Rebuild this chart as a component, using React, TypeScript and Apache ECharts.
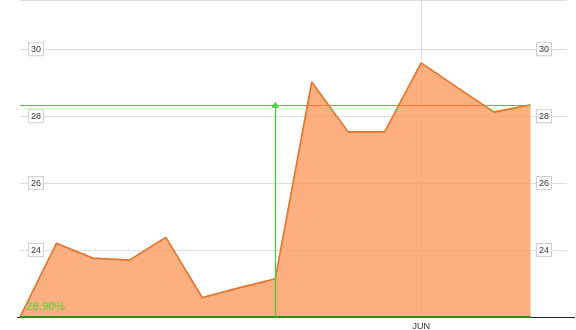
import React, { useEffect, useRef } from "react";
import * as echarts from "echarts";

const categories = [
  "Mar 20", "Mar 27", "Apr 3", "Apr 10", "Apr 17", "Apr 24", "May 1", "May 8",
  "May 15", "May 22", "May 29", "Jun 5", "Jun 12", "Jun 19", "Jun 26", "Jul 3",
];
const values = [22.0, 24.2, 23.76, 23.7, 24.38, 22.58, 22.87, 23.14, 29.02, 27.53, 27.53, 29.59, 28.85, 28.12, 28.34];
const monthLabelIndex = 11;
const monthLabel = "JUN";
const arrowIndex = 7;
const changeText = "28.90%";
const yMin = 22;
const yMax = 31.47;
const yInterval = 2;

export default function App() {
  const ref = useRef<HTMLDivElement>(null);
  useEffect(() => {
    if (!ref.current) return;
    const chart = echarts.init(ref.current, null, { renderer: "svg" });
    const last = values[values.length - 1];
    const lastIdx = values.length - 1;
    const green = "#47CC3A";
    const labelStyle = {
      inside: true,
      fontSize: 9,
      color: "#333",
      fontFamily: "Liberation Sans",
      backgroundColor: "#fff",
      borderColor: "#d0d0d0",
      borderWidth: 1,
      padding: [2, 2, 1, 2],
      showMinLabel: false,
      showMaxLabel: false,
    };
    chart.setOption({
      animation: false,
      grid: { left: 20, right: 9, top: -3, bottom: 13, containLabel: false },
      xAxis: {
        type: "category",
        data: categories,
        boundaryGap: false,
        axisLine: { show: false },
        axisTick: { show: false },
        axisLabel: {
          show: true,
          interval: 0,
          margin: 4,
          fontSize: 9,
          color: "#333",
          fontFamily: "Liberation Sans",
          formatter: (_v: string, i: number) => (i === monthLabelIndex ? monthLabel : ""),
        },
        splitLine: {
          show: true,
          interval: (i: number) => i === monthLabelIndex,
          lineStyle: { color: "#dcdcdc", width: 1 },
        },
      },
      yAxis: [
        {
          type: "value",
          position: "left",
          min: yMin,
          max: yMax,
          interval: yInterval,
          axisLine: { show: false },
          axisTick: { show: false },
          axisLabel: { ...labelStyle, margin: 9 },
          splitLine: {
            show: true,
            lineStyle: { color: "#dcdcdc", width: 1 },
          },
        },
        {
          type: "value",
          position: "right",
          min: yMin,
          max: yMax,
          interval: yInterval,
          axisLine: { show: false },
          axisTick: { show: false },
          axisLabel: { ...labelStyle, margin: 16 },
          splitLine: { show: false },
        },
      ],
      series: [
        {
          type: "line",
          data: values,
          symbol: "none",
          lineStyle: { color: "#E5732A", width: 1.6 },
          areaStyle: { color: "#FB9B5F", opacity: 0.8 },
          z: 2,
          markLine: {
            silent: true,
            symbol: ["none", "none"],
            label: { show: false },
            lineStyle: { color: green, width: 1.2, type: "solid", opacity: 1 },
            data: [
              [
                { coord: [0, last], lineStyle: { color: green, width: 1.2, type: "solid" } },
                { coord: [lastIdx, last], lineStyle: { color: green, width: 1.2, type: "solid" } },
              ],
              [
                { coord: [0, yMin], lineStyle: { color: "#2E8B1E", width: 2, type: "solid" } },
                { coord: [lastIdx, yMin], lineStyle: { color: "#2E8B1E", width: 2, type: "solid" } },
              ],
              [
                {
                  coord: [arrowIndex, yMin],
                  symbol: "none",
                  lineStyle: { color: green, width: 1.2, type: "solid" },
                },
                {
                  coord: [arrowIndex, last],
                  symbol: "triangle",
                  symbolSize: [8, 6],
                  lineStyle: { color: green, width: 1.2, type: "solid" },
                },
              ],
            ],
          },
        },
      ],
      graphic: [
        {
          type: "line",
          shape: { x1: 17, y1: 317.5, x2: 575, y2: 317.5 },
          style: { stroke: "#222", lineWidth: 1 },
          z: 1,
        },
        {
          type: "text",
          left: 26,
          top: 300,
          style: {
            text: changeText,
            fill: "#52D33A",
            fontSize: 11.5,
            fontFamily: "Liberation Sans",
          },
          z: 10,
        },
      ],
    });
    return () => chart.dispose();
  }, []);
  return (
    <div
      ref={ref}
      style={{ position: "fixed", left: 0, top: 0, width: 576, height: 330 }}
    />
  );
}
